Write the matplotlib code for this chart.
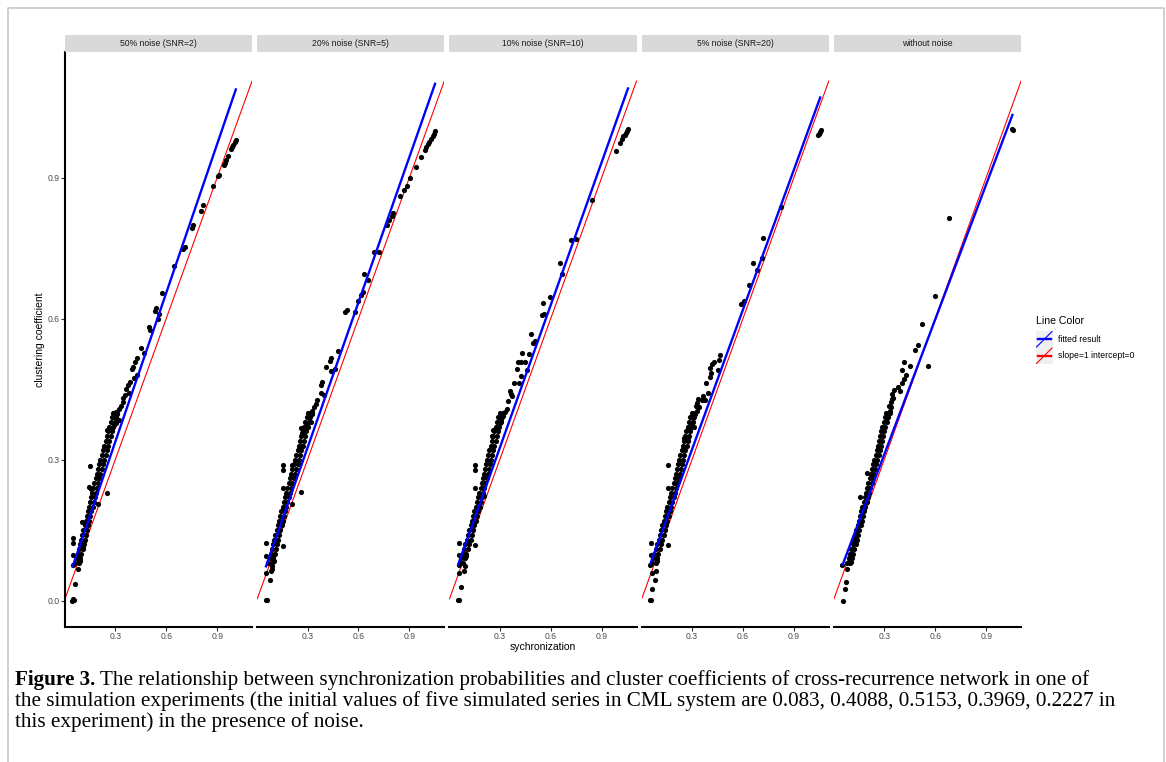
import matplotlib.pyplot as plt
from matplotlib.patches import Rectangle
from matplotlib.lines import Line2D

plt.rcParams['font.family'] = ['Liberation Sans', 'DejaVu Sans']

panel_titles = ['50% noise (SNR=2)', '20% noise (SNR=5)', '10% noise (SNR=10)',
                '5% noise (SNR=20)', 'without noise']

# fitted lm lines
fit_slope = [1.056, 1.031, 1.013, 0.992, 0.957]
fit_intercept = [0.021, 0.016, 0.021, 0.024, 0.024]

# dense band of points: rows of clustering coefficient, left/right edge of synchronization
band_y = [0.08, 0.09, 0.10, 0.11, 0.12, 0.13, 0.14, 0.15, 0.16, 0.17, 0.18, 0.19, 0.20,
          0.21, 0.22, 0.23, 0.24, 0.25, 0.26, 0.27, 0.28, 0.29, 0.30, 0.31, 0.32, 0.33,
          0.34, 0.35, 0.36, 0.37, 0.38, 0.39, 0.40]

band1_l = [0.064, 0.072, 0.079, 0.086, 0.093, 0.099, 0.106, 0.112, 0.119, 0.125, 0.131, 0.138, 0.144,
           0.151, 0.157, 0.164, 0.171, 0.177, 0.184, 0.191, 0.199, 0.206, 0.213, 0.221, 0.229, 0.236,
           0.244, 0.251, 0.259, 0.266, 0.274, 0.281, 0.289]
band1_r = [0.086, 0.094, 0.101, 0.108, 0.115, 0.121, 0.128, 0.134, 0.141, 0.147, 0.153, 0.160, 0.166,
           0.173, 0.179, 0.186, 0.193, 0.199, 0.206, 0.213, 0.221, 0.228, 0.235, 0.243, 0.251, 0.258,
           0.266, 0.273, 0.281, 0.288, 0.296, 0.303, 0.311]
band2_l = [0.069, 0.077, 0.084, 0.090, 0.097, 0.104, 0.111, 0.118, 0.125, 0.132, 0.139, 0.146, 0.153,
           0.160, 0.167, 0.175, 0.182, 0.189, 0.197, 0.204, 0.211, 0.219, 0.226, 0.234, 0.241, 0.249,
           0.256, 0.264, 0.271, 0.279, 0.287, 0.295, 0.303]
band2_r = [0.091, 0.099, 0.106, 0.112, 0.119, 0.126, 0.133, 0.140, 0.147, 0.154, 0.161, 0.168, 0.175,
           0.182, 0.189, 0.197, 0.204, 0.211, 0.219, 0.226, 0.233, 0.241, 0.248, 0.256, 0.263, 0.271,
           0.278, 0.286, 0.293, 0.301, 0.309, 0.317, 0.325]
band3_l = [0.064, 0.072, 0.081, 0.089, 0.097, 0.106, 0.114, 0.121, 0.129, 0.136, 0.144, 0.151, 0.159,
           0.166, 0.174, 0.180, 0.187, 0.193, 0.200, 0.206, 0.213, 0.219, 0.225, 0.232, 0.239, 0.246,
           0.253, 0.260, 0.267, 0.275, 0.283, 0.291, 0.299]
band3_r = [0.086, 0.094, 0.103, 0.111, 0.119, 0.128, 0.136, 0.143, 0.151, 0.158, 0.166, 0.173, 0.181,
           0.188, 0.196, 0.202, 0.209, 0.215, 0.222, 0.228, 0.235, 0.241, 0.247, 0.254, 0.261, 0.268,
           0.275, 0.282, 0.289, 0.297, 0.305, 0.313, 0.321]
band4_l = [0.063, 0.071, 0.079, 0.087, 0.095, 0.103, 0.111, 0.119, 0.126, 0.133, 0.141, 0.148, 0.155,
           0.162, 0.170, 0.177, 0.184, 0.191, 0.198, 0.205, 0.211, 0.218, 0.225, 0.232, 0.239, 0.246,
           0.253, 0.260, 0.267, 0.274, 0.282, 0.289, 0.297]
band4_r = [0.085, 0.093, 0.101, 0.109, 0.117, 0.125, 0.133, 0.141, 0.148, 0.155, 0.163, 0.170, 0.177,
           0.184, 0.192, 0.199, 0.206, 0.213, 0.220, 0.227, 0.233, 0.240, 0.247, 0.254, 0.261, 0.268,
           0.275, 0.282, 0.289, 0.296, 0.304, 0.311, 0.319]
band5_l = [0.081, 0.090, 0.099, 0.106, 0.113, 0.121, 0.129, 0.136, 0.143, 0.150, 0.157, 0.164, 0.171,
           0.179, 0.186, 0.193, 0.200, 0.207, 0.214, 0.221, 0.228, 0.235, 0.242, 0.249, 0.255, 0.262,
           0.268, 0.275, 0.282, 0.289, 0.297, 0.305, 0.313]
band5_r = [0.099, 0.108, 0.117, 0.124, 0.131, 0.139, 0.147, 0.154, 0.161, 0.168, 0.175, 0.182, 0.189,
           0.197, 0.204, 0.211, 0.218, 0.225, 0.232, 0.239, 0.246, 0.253, 0.260, 0.267, 0.273, 0.280,
           0.286, 0.293, 0.300, 0.307, 0.315, 0.323, 0.331]

# scattered points outside the band
pts1_x = [1.012, 1.006, 0.996, 0.988, 0.982, 0.963, 0.953, 0.947, 0.939, 0.909, 0.904, 0.878, 0.819,
          0.805, 0.756, 0.752, 0.711, 0.701, 0.644, 0.575, 0.539, 0.531, 0.559, 0.549, 0.496, 0.504,
          0.472, 0.451, 0.427, 0.417, 0.406, 0.398, 0.425, 0.411, 0.386, 0.376, 0.362, 0.382, 0.356,
          0.348, 0.343, 0.333, 0.323, 0.303, 0.313, 0.293, 0.299, 0.323, 0.307, 0.293, 0.283, 0.254,
          0.152, 0.146, 0.156, 0.250, 0.201, 0.102, 0.110, 0.051, 0.051, 0.051, 0.067, 0.087, 0.051,
          0.081, 0.063, 0.051, 0.047, 0.055, 0.091]
pts1_y = [0.980, 0.975, 0.970, 0.964, 0.960, 0.945, 0.937, 0.931, 0.926, 0.906, 0.903, 0.882, 0.841,
          0.829, 0.798, 0.792, 0.752, 0.748, 0.711, 0.655, 0.623, 0.616, 0.609, 0.599, 0.582, 0.576,
          0.527, 0.537, 0.516, 0.508, 0.498, 0.493, 0.480, 0.473, 0.466, 0.458, 0.450, 0.442, 0.437,
          0.431, 0.423, 0.413, 0.408, 0.401, 0.398, 0.396, 0.388, 0.384, 0.378, 0.373, 0.367, 0.363,
          0.286, 0.241, 0.237, 0.230, 0.206, 0.168, 0.114, 0.133, 0.123, 0.097, 0.094, 0.087, 0.075,
          0.067, 0.035, 0.004, 0.000, 0.002, 0.084]

pts2_x = [1.053, 1.047, 1.037, 1.028, 1.018, 1.008, 0.998, 0.990, 0.969, 0.939, 0.906, 0.886, 0.870,
          0.846, 0.805, 0.797, 0.781, 0.766, 0.722, 0.693, 0.634, 0.654, 0.624, 0.614, 0.596, 0.579,
          0.530, 0.520, 0.482, 0.459, 0.439, 0.431, 0.407, 0.441, 0.388, 0.378, 0.398, 0.378, 0.358,
          0.348, 0.339, 0.325, 0.329, 0.309, 0.319, 0.299, 0.260, 0.270, 0.266, 0.157, 0.157, 0.207,
          0.157, 0.260, 0.211, 0.057, 0.057, 0.093, 0.156, 0.089, 0.093, 0.083, 0.057, 0.077, 0.053,
          0.061, 0.102]
pts2_y = [0.998, 0.993, 0.988, 0.981, 0.976, 0.971, 0.964, 0.958, 0.944, 0.922, 0.900, 0.883, 0.873,
          0.860, 0.825, 0.819, 0.810, 0.800, 0.742, 0.742, 0.695, 0.681, 0.657, 0.651, 0.637, 0.614,
          0.618, 0.613, 0.531, 0.493, 0.516, 0.510, 0.498, 0.489, 0.466, 0.458, 0.438, 0.442, 0.427,
          0.419, 0.411, 0.404, 0.396, 0.388, 0.381, 0.373, 0.367, 0.357, 0.330, 0.288, 0.278, 0.288,
          0.239, 0.231, 0.206, 0.123, 0.096, 0.098, 0.116, 0.073, 0.067, 0.063, 0.058, 0.043, 0.002,
          0.001, 0.084]

pts3_x = [1.057, 1.051, 1.043, 1.035, 1.028, 1.018, 1.008, 0.986, 0.844, 0.746, 0.717, 0.657, 0.667,
          0.596, 0.555, 0.563, 0.551, 0.482, 0.506, 0.494, 0.474, 0.431, 0.407, 0.427, 0.451, 0.400,
          0.459, 0.425, 0.382, 0.415, 0.358, 0.368, 0.348, 0.372, 0.343, 0.329, 0.317, 0.309, 0.299,
          0.258, 0.254, 0.156, 0.156, 0.156, 0.205, 0.057, 0.057, 0.057, 0.093, 0.087, 0.057, 0.069,
          0.053, 0.061, 0.156, 0.100]
pts3_y = [1.003, 0.999, 0.995, 0.991, 0.988, 0.981, 0.974, 0.957, 0.852, 0.770, 0.767, 0.718, 0.694,
          0.645, 0.634, 0.609, 0.607, 0.568, 0.553, 0.547, 0.525, 0.527, 0.508, 0.507, 0.507, 0.493,
          0.491, 0.477, 0.462, 0.464, 0.445, 0.440, 0.425, 0.435, 0.408, 0.401, 0.392, 0.384, 0.377,
          0.363, 0.350, 0.288, 0.278, 0.239, 0.222, 0.123, 0.097, 0.075, 0.073, 0.063, 0.058, 0.029,
          0.001, 0.001, 0.118, 0.094]

pts4_x = [1.057, 1.051, 1.045, 1.041, 0.821, 0.720, 0.711, 0.657, 0.681, 0.638, 0.604, 0.589, 0.467,
          0.461, 0.455, 0.427, 0.415, 0.404, 0.411, 0.407, 0.382, 0.392, 0.366, 0.356, 0.376, 0.343,
          0.329, 0.317, 0.303, 0.297, 0.309, 0.254, 0.274, 0.156, 0.156, 0.057, 0.057, 0.053, 0.087,
          0.067, 0.081, 0.067, 0.053, 0.061, 0.156, 0.096, 0.323, 0.330, 0.338]
pts4_y = [1.001, 0.997, 0.993, 0.990, 0.837, 0.771, 0.729, 0.718, 0.703, 0.671, 0.638, 0.630, 0.522,
          0.512, 0.491, 0.508, 0.504, 0.494, 0.485, 0.476, 0.462, 0.442, 0.435, 0.427, 0.427, 0.411,
          0.404, 0.396, 0.388, 0.377, 0.369, 0.346, 0.342, 0.288, 0.239, 0.123, 0.097, 0.075, 0.063,
          0.058, 0.043, 0.025, 0.001, 0.001, 0.118, 0.084, 0.415, 0.420, 0.430]

pts5_x = [1.057, 1.053, 0.681, 0.596, 0.520, 0.555, 0.500, 0.482, 0.417, 0.449, 0.402, 0.425, 0.417,
          0.404, 0.378, 0.392, 0.352, 0.339, 0.335, 0.323, 0.315, 0.295, 0.197, 0.157, 0.053, 0.093,
          0.102, 0.083, 0.073, 0.067, 0.057, 0.112, 0.132, 0.330, 0.340, 0.345, 0.348, 0.360]
pts5_y = [1.001, 1.003, 0.814, 0.649, 0.589, 0.500, 0.543, 0.534, 0.508, 0.499, 0.491, 0.479, 0.471,
          0.462, 0.454, 0.445, 0.431, 0.411, 0.404, 0.394, 0.388, 0.365, 0.272, 0.220, 0.075, 0.083,
          0.083, 0.067, 0.040, 0.025, 0.000, 0.100, 0.129, 0.415, 0.422, 0.428, 0.440, 0.448]

bands = [(band1_l, band1_r), (band2_l, band2_r), (band3_l, band3_r), (band4_l, band4_r), (band5_l, band5_r)]
points = [(pts1_x, pts1_y), (pts2_x, pts2_y), (pts3_x, pts3_y), (pts4_x, pts4_y), (pts5_x, pts5_y)]

W, H = 1166, 762


def fx(px):
    return px / W


def fy(py):
    return 1 - py / H


fig = plt.figure(figsize=(W / 100, H / 100), dpi=100)

top, bottom = 52, 627
pw = 187
for i in range(5):
    left = 65 + 192.25 * i
    ax = fig.add_axes([fx(left), fy(bottom), pw / W, (bottom - top) / H])
    ax.set_xlim(0.004, 1.105)
    ax.set_ylim(-0.056, 1.167)

    bl, br = bands[i]
    px_, py_ = points[i]
    xs = bl + br + px_
    ys = band_y + band_y + py_

    ax.axline((0, 0), slope=1, color='#FF0000', lw=0.8, zorder=1)
    ax.scatter(xs, ys, s=14, c='black', linewidths=0, zorder=2)
    x0, x1 = min(xs), max(xs)
    ax.plot([x0, x1], [fit_intercept[i] + fit_slope[i] * x0, fit_intercept[i] + fit_slope[i] * x1],
            color='#0000FF', lw=1.7, zorder=3, solid_capstyle='butt')

    for s in ['top', 'right']:
        ax.spines[s].set_visible(False)
    ax.spines['bottom'].set_linewidth(1.5)
    ax.spines['left'].set_linewidth(1.5)
    ax.set_xticks([0.3, 0.6, 0.9])
    ax.set_xticklabels(['0.3', '0.6', '0.9'])
    ax.set_yticks([0.0, 0.3, 0.6, 0.9])
    ax.set_yticklabels(['0.0', '0.3', '0.6', '0.9'])
    ax.tick_params(length=3, width=0.8, color='#333333', labelsize=6.2,
                   labelcolor='#4D4D4D', pad=0.8)
    if i > 0:
        ax.spines['left'].set_visible(False)
        ax.tick_params(left=False, labelleft=False)

    fig.add_artist(Rectangle((fx(left), fy(top)), pw / W, 17 / H, transform=fig.transFigure,
                             facecolor='#D9D9D9', edgecolor='none'))
    fig.text(fx(left + pw / 2), fy(43.5), panel_titles[i], ha='center', va='center',
             fontsize=6.2, color='#1A1A1A')

fig.text(fx(40), fy(339.5), 'clustering coefficient', rotation=90, ha='center', va='center',
         fontsize=7.5)
fig.text(fx(543), fy(647), 'sychronization', ha='center', va='center', fontsize=7.5)

# legend
fig.text(fx(1036), fy(321), 'Line Color', ha='left', va='center', fontsize=7.6)
for k, (col, lab) in enumerate([('#0000FF', 'fitted result'), ('#FF0000', 'slope=1 intercept=0')]):
    y0 = 331 + 16.5 * k
    fig.add_artist(Rectangle((fx(1036), fy(y0 + 16.5)), 16.5 / W, 16.5 / H, transform=fig.transFigure,
                             facecolor='#F0F0F0', edgecolor='none'))
    fig.add_artist(Line2D([fx(1037.5), fx(1051)], [fy(y0 + 8.2), fy(y0 + 8.2)], color=col, lw=1.7,
                          transform=fig.transFigure))
    fig.add_artist(Line2D([fx(1036.5), fx(1052)], [fy(y0 + 16), fy(y0 + 0.5)], color=col, lw=0.8,
                          transform=fig.transFigure))
    fig.text(fx(1058), fy(y0 + 8.2), lab, ha='left', va='center', fontsize=6.2)

# page frame
fig.add_artist(Line2D([fx(8), fx(8), fx(1164), fx(1164)], [fy(780), fy(8), fy(8), fy(780)],
                      color='#C8C8C8', lw=1.2, transform=fig.transFigure))

# caption
cap_size = 15.2
cap_lines = [
    ' The relationship between synchronization probabilities and cluster coefficients of cross-recurrence network in one of',
    'the simulation experiments (the initial values of five simulated series in CML system are 0.083, 0.4088, 0.5153, 0.3969, 0.2227 in',
    'this experiment) in the presence of noise.',
]
cap_base = [685, 706, 727]
t = fig.text(fx(15), fy(cap_base[0]), 'Figure 3.', fontweight='bold', family='Liberation Serif',
             fontsize=cap_size, va='baseline')
fig.canvas.draw()
bb = t.get_window_extent()
fig.text(bb.x1 / W, fy(cap_base[0]), cap_lines[0], family='Liberation Serif', fontsize=cap_size,
         va='baseline')
for line, yb in zip(cap_lines[1:], cap_base[1:]):
    fig.text(fx(15), fy(yb), line, family='Liberation Serif', fontsize=cap_size, va='baseline')

fig.savefig('out.png', dpi=100)
